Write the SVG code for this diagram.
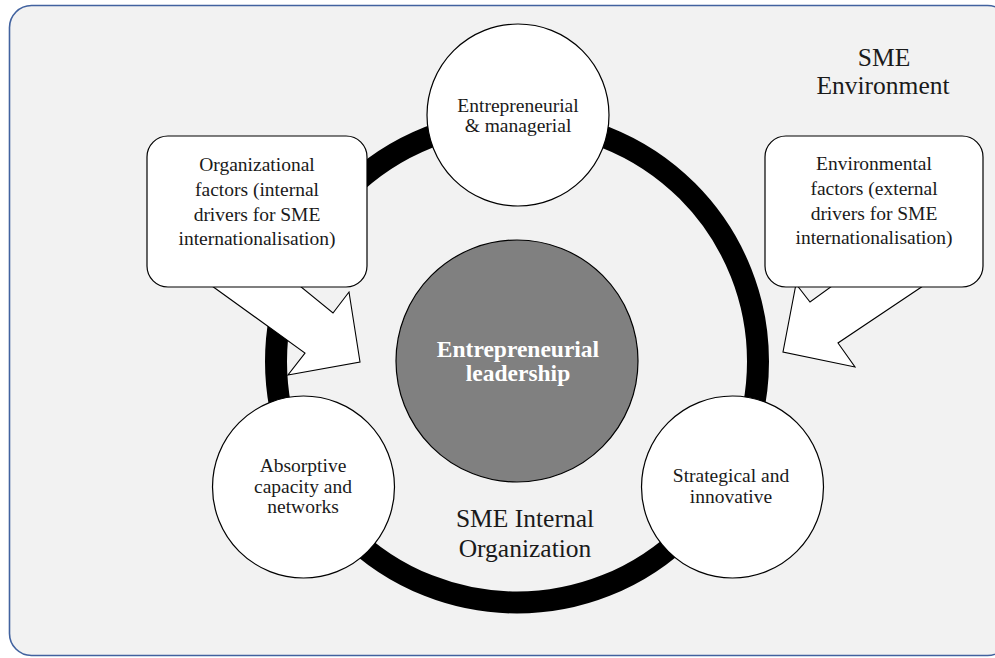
<svg xmlns="http://www.w3.org/2000/svg" width="995" height="658" viewBox="0 0 995 658">
  <style>
    .frame { fill: #f2f2f2; stroke: #41629f; stroke-width: 1.6; }
    .ring { fill: none; stroke: #000; stroke-width: 22; }
    .arrow { fill: #fff; stroke: #000; stroke-width: 1.1; stroke-linejoin: miter; }
    .box { fill: #fff; stroke: #000; stroke-width: 1.2; }
    .bubble { fill: #fff; stroke: #000; stroke-width: 1.2; }
    .core { fill: #808080; stroke: #000; stroke-width: 1.2; }
    .t { font-family: "Liberation Serif", "Times New Roman", serif; font-size: 19.5px; fill: #1a1a1a; text-anchor: middle; }
    .big { font-family: "Liberation Serif", "Times New Roman", serif; font-size: 25.5px; fill: #1a1a1a; text-anchor: middle; }
    .core-t { font-family: "Liberation Serif", "Times New Roman", serif; font-size: 23.5px; font-weight: bold; fill: #fff; text-anchor: middle; }
  </style>

  <!-- outer frame -->
  <rect class="frame" x="9.5" y="5.5" width="1000" height="650" rx="22" ry="22"/>

  <g id="labels">
    <text class="big" x="884" y="66">SME</text>
    <text class="big" x="883" y="94">Environment</text>
    <text class="big" x="525" y="527">SME Internal</text>
    <text class="big" x="525" y="557">Organization</text>
  </g>

  <g id="connectors">
    <!-- cycle ring behind the four circles -->
    <circle class="ring" cx="517" cy="361.5" r="241"/>
    <!-- block arrows from the factor boxes -->
    <polygon class="arrow" points="212,286 305,353 288,375 360,362 349,292 333,313 300,286"/>
    <polygon class="arrow" points="923,286 838,343 855,367 783,352 796,284 810,302 832,286"/>
  </g>

  <g id="organizational-factors">
    <rect class="box" x="147" y="136" width="220" height="151" rx="21" ry="21"/>
    <text class="t" x="257" y="171">Organizational</text>
    <text class="t" x="257" y="196">factors (internal</text>
    <text class="t" x="257" y="221">drivers for SME</text>
    <text class="t" x="257" y="245">internationalisation)</text>
  </g>

  <g id="environmental-factors">
    <rect class="box" x="765" y="136" width="218" height="151" rx="21" ry="21"/>
    <text class="t" x="874" y="170">Environmental</text>
    <text class="t" x="874" y="195">factors (external</text>
    <text class="t" x="874" y="220">drivers for SME</text>
    <text class="t" x="874" y="244">internationalisation)</text>
  </g>

  <g id="entrepreneurial-managerial">
    <circle class="bubble" cx="518" cy="115" r="91"/>
    <text class="t" x="518" y="112">Entrepreneurial</text>
    <text class="t" x="518" y="132">&amp; managerial</text>
  </g>

  <g id="absorptive-capacity">
    <circle class="bubble" cx="303.5" cy="487" r="91"/>
    <text class="t" x="303" y="472">Absorptive</text>
    <text class="t" x="303" y="493">capacity and</text>
    <text class="t" x="303" y="513">networks</text>
  </g>

  <g id="strategical-innovative">
    <circle class="bubble" cx="732.5" cy="487" r="91"/>
    <text class="t" x="731" y="482">Strategical and</text>
    <text class="t" x="731" y="503">innovative</text>
  </g>

  <g id="entrepreneurial-leadership">
    <circle class="core" cx="517" cy="361" r="121"/>
    <text class="core-t" x="518" y="357">Entrepreneurial</text>
    <text class="core-t" x="518" y="381">leadership</text>
  </g>
</svg>
